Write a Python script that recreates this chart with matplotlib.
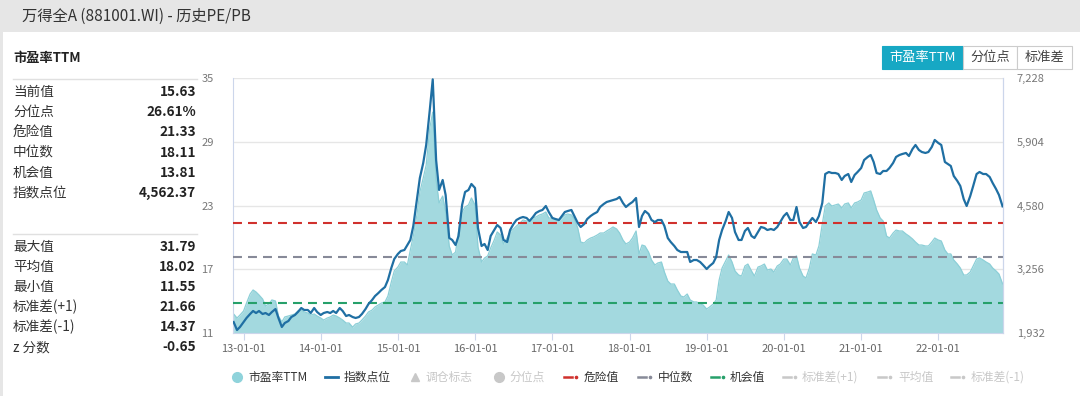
import pandas as pd
import matplotlib
matplotlib.use("Agg")
import matplotlib.pyplot as plt
import matplotlib.dates as mdates
import matplotlib.ticker as mticker
from matplotlib.patches import Rectangle
from matplotlib.lines import Line2D

plt.rcParams['font.family'] = ['Noto Sans CJK SC', 'DejaVu Sans']

# ---- data (semi-monthly) ---- #
start_date = "2012-11-15"

pe_ttm = [
    12.79, 12.41, 12.69,
    13.07, 13.82, 14.67, 15.05, 14.86, 14.58, 14.20, 13.54, 13.73, 14.11, 14.01, 12.60,
    12.04, 12.51, 12.60, 12.69, 12.79, 13.07, 13.16, 12.98, 12.88, 12.69, 12.79, 12.60,
    12.41, 12.22, 12.41, 12.51, 12.69, 12.60, 12.41, 12.22, 11.94, 11.94, 11.55, 11.85,
    11.94, 12.22, 12.60, 12.98, 13.16, 13.45, 13.64, 13.82, 13.92, 14.48, 15.80, 16.84,
    17.21, 17.68, 17.68, 17.40, 18.81, 20.13, 22.11, 24.27, 25.59, 26.81, 30.29, 31.79,
    25.40, 23.24, 23.89, 22.39, 19.19, 18.34, 18.62, 20.51, 22.39, 22.86, 23.05, 23.71, 23.05,
    19.09, 17.68, 18.06, 18.25, 19.00, 19.75, 20.51, 20.22, 19.38, 19.94, 20.51, 20.79,
    21.07, 21.35, 21.64, 21.54, 21.54, 21.82, 21.92, 22.11, 22.20, 22.39, 21.82, 21.82,
    21.73, 21.54, 21.82, 22.11, 22.20, 22.11, 21.73, 20.88, 19.56, 19.47, 19.75, 19.94,
    20.04, 20.22, 20.41, 20.41, 20.60, 20.79, 20.98, 20.79, 20.41, 19.75, 19.38, 19.56,
    19.94, 20.60, 18.44, 19.28, 19.19, 18.62, 17.87, 17.40, 17.59, 17.68, 16.74, 15.89,
    15.61, 15.61, 15.05, 14.48, 14.39, 14.67, 14.11, 13.92, 13.92, 13.73, 13.64, 13.26,
    13.45, 13.73, 14.11, 15.99, 17.12, 17.78, 18.34, 17.68, 16.84, 16.46, 16.36, 17.31,
    17.49, 16.84, 16.36, 17.21, 17.31, 17.49, 16.93, 17.02, 16.74, 17.31, 17.49, 17.96,
    17.96, 17.40, 18.06, 18.25, 17.12, 16.36, 16.18, 17.12, 18.44, 18.34, 19.19, 21.26,
    22.95, 23.24, 22.95, 23.05, 23.14, 22.77, 23.14, 23.24, 22.77, 23.24, 23.33, 23.52,
    24.18, 24.27, 24.37, 23.52, 22.58, 21.82, 21.54, 20.13, 19.94, 20.41, 20.69, 20.60,
    20.60, 20.32, 20.13, 19.85, 19.56, 19.28, 19.28, 19.19, 19.19, 19.56, 19.94,
    19.75, 19.66, 18.81, 18.44, 18.44, 17.87, 17.49, 17.12, 16.46, 16.46, 16.74, 17.31,
    17.96, 18.06, 17.87, 17.68, 17.49, 17.12, 16.84, 16.55, 15.63,
]

index_level = [
    2160, 1994, 2057,
    2160, 2244, 2327, 2389, 2347, 2389, 2327, 2347, 2306, 2368, 2430, 2244,
    2057, 2140, 2181, 2264, 2306, 2368, 2451, 2410, 2410, 2347, 2451, 2368,
    2306, 2347, 2368, 2347, 2389, 2347, 2451, 2389, 2285, 2306, 2264, 2244,
    2264, 2327, 2430, 2534, 2617, 2700, 2763, 2825, 2887, 3033, 3282, 3469,
    3573, 3635, 3656, 3760, 3864, 4154, 4694, 5151, 5463, 5837, 6564, 7200,
    5525, 4902, 5110, 4798, 3905, 3864, 3760, 3947, 4591, 4861, 4902, 5027, 4944,
    4113, 3739, 3781, 3656, 3947, 4071, 4175, 4113, 3864, 3822, 4071, 4196,
    4279, 4321, 4341, 4321, 4258, 4341, 4424, 4466, 4487, 4570, 4445, 4321,
    4300, 4279, 4362, 4445, 4466, 4487, 4362, 4217, 4134, 4196, 4300, 4362,
    4404, 4445, 4549, 4611, 4653, 4674, 4694, 4715, 4757, 4632, 4549, 4611,
    4653, 4736, 4134, 4362, 4466, 4404, 4279, 4237, 4279, 4279, 4154, 3905,
    3822, 3739, 3656, 3614, 3614, 3614, 3407, 3448, 3448, 3407, 3344, 3261,
    3324, 3386, 3511, 3864, 4071, 4258, 4445, 4321, 4030, 3864, 3864, 4051,
    4113, 3947, 3905, 4030, 4134, 4113, 4071, 4092, 4071, 4134, 4237, 4362,
    4424, 4279, 4279, 4549, 4237, 4113, 4134, 4237, 4321, 4237, 4362, 4632,
    5234, 5276, 5255, 5255, 5234, 5110, 5193, 5234, 5068, 5214, 5276, 5359,
    5525, 5588, 5629, 5484, 5255, 5234, 5297, 5297, 5359, 5463, 5588, 5629,
    5650, 5671, 5608, 5754, 5837, 5733, 5691, 5671, 5691, 5795, 5941,
    5878, 5837, 5484, 5442, 5401, 5193, 5089, 4985, 4715, 4570, 4777, 4985,
    5234, 5276, 5234, 5234, 5172, 5048, 4923, 4798, 4562.37,
]

danger_value = 21.33
median_value = 18.11
chance_value = 13.81

pe_ticks = [11, 17, 23, 29, 35]
index_ticks = [1932, 3256, 4580, 5904, 7228]

stats_top_labels = ["当前值", "分位点", "危险值", "中位数", "机会值", "指数点位"]
stats_top_values = ["15.63", "26.61%", "21.33", "18.11", "13.81", "4,562.37"]
stats_bottom_labels = ["最大值", "平均值", "最小值", "标准差(+1)", "标准差(-1)", "z 分数"]
stats_bottom_values = ["31.79", "18.02", "11.55", "21.66", "14.37", "-0.65"]

legend_labels = ["市盈率TTM", "指数点位", "调仓标志", "分位点", "危险值",
                 "中位数", "机会值", "标准差(+1)", "平均值", "标准差(-1)"]
button_labels = ["市盈率TTM", "分位点", "标准差"]

dates = pd.date_range(start_date, periods=len(pe_ttm), freq="SMS")

# ---- figure in pixel terms ---- #
W, H = 1080, 396
def fx(px):
    return px / W
def fy(py):
    return 1 - py / H

fig = plt.figure(figsize=(W / 100, H / 100), dpi=100, facecolor="#e6e6e6")
fig.patches.append(Rectangle((fx(3), 0), 1, fy(32), transform=fig.transFigure,
                             facecolor="white", edgecolor="none", zorder=-5))
fig.text(fx(22), fy(16), "万得全A (881001.WI) - 历史PE/PB", fontsize=11,
         color="#333333", va="center", ha="left")

# left stats panel
fig.text(fx(13), fy(58), "市盈率TTM", fontsize=9.5, fontweight="bold", color="#222222", va="center")
for yy in (79, 234):
    fig.add_artist(Line2D([fx(13), fx(197)], [fy(yy), fy(yy)], color="#e0e0e0", lw=1))
for i, (lab, val) in enumerate(zip(stats_top_labels, stats_top_values)):
    y = fy(92 + i * 20.2)
    fig.text(fx(13), y, lab, fontsize=9.8, color="#333333", va="center")
    fig.text(fx(196), y, val, fontsize=9.8, fontweight="bold", color="#222222", va="center", ha="right")
for i, (lab, val) in enumerate(zip(stats_bottom_labels, stats_bottom_values)):
    y = fy(247 + i * 20)
    fig.text(fx(13), y, lab, fontsize=9.8, color="#333333", va="center")
    fig.text(fx(196), y, val, fontsize=9.8, fontweight="bold", color="#222222", va="center", ha="right")

# buttons top right
btn_edges = [882, 963, 1017, 1072]
for i, lab in enumerate(button_labels):
    x0, x1 = btn_edges[i], btn_edges[i + 1]
    sel = i == 0
    fig.patches.append(Rectangle((fx(x0), fy(69)), fx(x1 - x0), (69 - 46) / H,
                                 transform=fig.transFigure,
                                 facecolor="#17a8c4" if sel else "white",
                                 edgecolor="#17a8c4" if sel else "#cccccc", lw=0.8))
    fig.text(fx((x0 + x1) / 2), fy(57.5), lab, fontsize=9.5, ha="center", va="center",
             color="white" if sel else "#444444")

# ---- main chart ---- #
ax = fig.add_axes([fx(233), fy(333), fx(1003 - 233), (333 - 78) / H])
ax.fill_between(dates, pe_ttm, pe_ticks[0], color="#a3d9df", lw=0, zorder=2)
ax.plot(dates, pe_ttm, color="#8ccfd7", lw=0.9, zorder=2)
ax.axhline(danger_value, color="#d0312d", lw=1.5, ls=(0, (4.3, 2.9)), zorder=3)
ax.axhline(median_value, color="#878a98", lw=1.5, ls=(0, (4.3, 2.9)), zorder=3)
ax.axhline(chance_value, color="#26a06a", lw=1.5, ls=(0, (4.3, 2.9)), zorder=3)

ax.set_ylim(pe_ticks[0], pe_ticks[-1])
ax.set_yticks(pe_ticks)
ax.set_xlim(pd.Timestamp("2012-11-12"), pd.Timestamp("2022-11-03"))
ax.grid(axis="y", color="#e6e6e6", lw=1)
ax.set_axisbelow(True)
ax.xaxis.set_major_locator(mdates.YearLocator())
ax.xaxis.set_major_formatter(mdates.DateFormatter("%y-%m-%d"))
ax.tick_params(axis="x", length=5, color="#ccd6eb", labelcolor="#666666", labelsize=8, pad=3)
ax.tick_params(axis="y", length=0, labelcolor="#777777", labelsize=8, pad=14)
for s in ("left", "bottom", "right"):
    ax.spines[s].set_color("#ccd6eb")
ax.spines["top"].set_visible(False)

ax2 = ax.twinx()
ax2.plot(dates, index_level, color="#1f6fa3", lw=1.6, zorder=4)
ax2.set_ylim(index_ticks[0], index_ticks[-1])
ax2.set_yticks(index_ticks)
ax2.yaxis.set_major_formatter(mticker.FuncFormatter(lambda v, p: f"{v:,.0f}"))
ax2.tick_params(axis="y", length=0, labelcolor="#777777", labelsize=8, pad=10)
for s in ("left", "bottom", "top"):
    ax2.spines[s].set_visible(False)
ax2.spines["right"].set_color("#ccd6eb")

# ---- legend along the bottom ---- #
ly = fy(377)
on, off = "#333333", "#c8c8c8"
def leg_dash(x, color):
    fig.add_artist(Line2D([fx(x), fx(x + 8)], [ly, ly], color=color, lw=1.8))
    fig.add_artist(Line2D([fx(x + 12)], [ly], marker="o", ms=1.6, color=color, lw=0))

fig.add_artist(Line2D([fx(237)], [ly], marker="o", ms=7, color="#8fd3db", lw=0))
fig.add_artist(Line2D([fx(325), fx(338)], [ly, ly], color="#1f6fa3", lw=2))
fig.add_artist(Line2D([fx(415)], [ly], marker="^", ms=6, color=off, lw=0))
fig.add_artist(Line2D([fx(499)], [ly], marker="o", ms=7, color=off, lw=0))
leg_dash(564, "#d0312d")
leg_dash(638, "#878a98")
leg_dash(711, "#26a06a")
leg_dash(783, off)
leg_dash(878, off)
leg_dash(951, off)

legend_x = [248, 344, 426, 509, 584, 658, 730, 802, 898, 971]
legend_on = [True, True, False, False, True, True, True, False, False, False]
for x, lab, act in zip(legend_x, legend_labels, legend_on):
    fig.text(fx(x), ly, lab, fontsize=8.5, color=on if act else off, va="center", ha="left")

fig.savefig("out.png", dpi=100, facecolor=fig.get_facecolor())
